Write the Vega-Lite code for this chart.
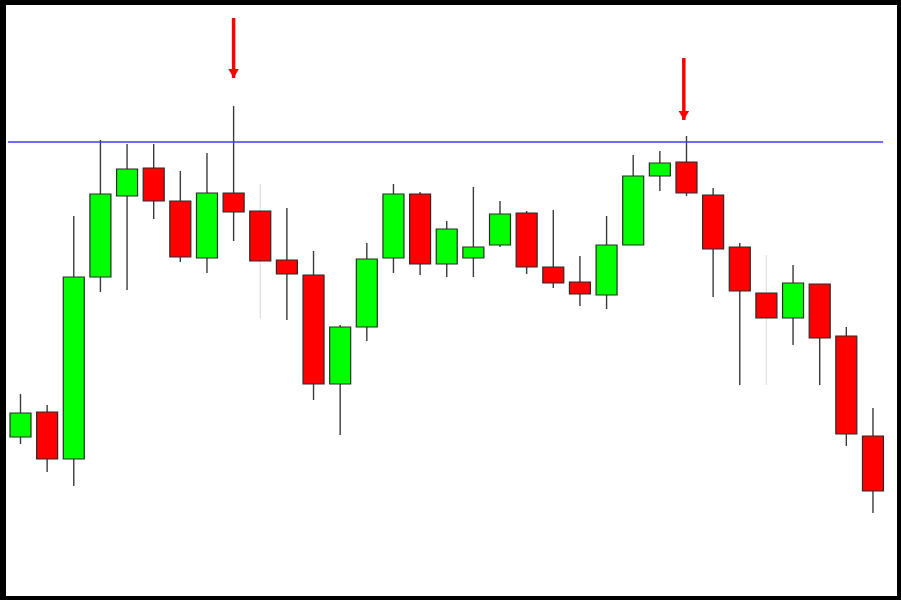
{
  "$schema": "https://vega.github.io/schema/vega-lite/v6.json",
  "width": 901,
  "height": 600,
  "autosize": {"type": "fit", "contains": "padding"},
  "padding": {"left": 6, "top": 5, "right": 4, "bottom": 4},
  "background": "black",
  "view": {"fill": "white", "stroke": null},
  "datasets": {
    "candles": [
      {"i": 1, "open": 116.3, "close": 118.7, "high": 120.6, "low": 115.6},
      {"i": 2, "open": 118.8, "close": 114.1, "high": 119.5, "low": 112.8},
      {"i": 3, "open": 114.1, "close": 132.3, "high": 138.4, "low": 111.4},
      {"i": 4, "open": 132.3, "close": 140.6, "high": 146.0, "low": 130.8},
      {"i": 5, "open": 140.4, "close": 143.1, "high": 145.6, "low": 131.0},
      {"i": 6, "open": 143.2, "close": 139.9, "high": 145.6, "low": 138.1},
      {"i": 7, "open": 139.9, "close": 134.3, "high": 142.9, "low": 133.8},
      {"i": 8, "open": 134.2, "close": 140.7, "high": 144.7, "low": 132.7},
      {"i": 9, "open": 140.7, "close": 138.8, "high": 149.4, "low": 135.9},
      {"i": 10, "open": 138.9, "close": 133.9, "high": 141.6, "low": 128.2},
      {"i": 11, "open": 134.0, "close": 132.6, "high": 139.2, "low": 128.0},
      {"i": 12, "open": 132.5, "close": 121.6, "high": 134.9, "low": 120.0},
      {"i": 13, "open": 121.6, "close": 127.3, "high": 127.5, "low": 116.5},
      {"i": 14, "open": 127.3, "close": 134.1, "high": 135.7, "low": 125.9},
      {"i": 15, "open": 134.2, "close": 140.6, "high": 141.6, "low": 132.7},
      {"i": 16, "open": 140.6, "close": 133.6, "high": 140.8, "low": 132.5},
      {"i": 17, "open": 133.6, "close": 137.1, "high": 137.9, "low": 132.3},
      {"i": 18, "open": 134.2, "close": 135.3, "high": 141.3, "low": 132.3},
      {"i": 19, "open": 135.5, "close": 138.6, "high": 139.9, "low": 135.3},
      {"i": 20, "open": 138.7, "close": 133.3, "high": 138.9, "low": 132.6},
      {"i": 21, "open": 133.3, "close": 131.7, "high": 139.0, "low": 131.2},
      {"i": 22, "open": 131.8, "close": 130.6, "high": 134.4, "low": 129.4},
      {"i": 23, "open": 130.5, "close": 135.5, "high": 138.4, "low": 129.1},
      {"i": 24, "open": 135.5, "close": 142.4, "high": 144.5, "low": 135.5},
      {"i": 25, "open": 142.4, "close": 143.7, "high": 144.9, "low": 140.9},
      {"i": 26, "open": 143.8, "close": 140.7, "high": 146.4, "low": 140.4},
      {"i": 27, "open": 140.5, "close": 135.1, "high": 141.2, "low": 130.3},
      {"i": 28, "open": 135.3, "close": 130.9, "high": 135.7, "low": 121.5},
      {"i": 29, "open": 130.7, "close": 128.2, "high": 134.5, "low": 121.5},
      {"i": 30, "open": 128.2, "close": 131.7, "high": 133.5, "low": 125.5},
      {"i": 31, "open": 131.6, "close": 126.2, "high": 131.6, "low": 121.5},
      {"i": 32, "open": 126.4, "close": 116.6, "high": 127.3, "low": 115.4},
      {"i": 33, "open": 116.4, "close": 110.9, "high": 119.2, "low": 108.7}
    ],
    "level": [{"start": 0.53, "end": 33.38, "price": 145.8}],
    "arrows": [
      {"i": 9, "top": 158.2, "tip": 152.2},
      {"i": 25.9, "top": 154.2, "tip": 148.0}
    ]
  },
  "layer": [
    {
      "data": {"name": "candles"},
      "mark": {"type": "rule", "strokeWidth": 1.4},
      "encoding": {
        "x": {"field": "i", "type": "quantitative", "scale": {"domain": [0.456, 33.902], "nice": false, "zero": false, "padding": 0}, "axis": null},
        "y": {"field": "low", "type": "quantitative", "scale": {"domain": [100.4, 159.5], "nice": false, "zero": false, "padding": 0}, "axis": null},
        "y2": {"field": "high"},
        "color": {"condition": {"test": "datum.i == 10 || datum.i == 29", "value": "#e2e2e2"}, "value": "#3a3a3a"}
      }
    },
    {
      "data": {"name": "candles"},
      "mark": {"type": "bar", "width": 21, "stroke": "#2a2a2a", "strokeWidth": 1.2},
      "encoding": {
        "x": {"field": "i", "type": "quantitative", "scale": {"domain": [0.456, 33.902], "nice": false, "zero": false, "padding": 0}, "axis": null},
        "y": {"field": "open", "type": "quantitative", "scale": {"domain": [100.4, 159.5], "nice": false, "zero": false, "padding": 0}, "axis": null},
        "y2": {"field": "close"},
        "color": {"condition": {"test": "datum.close >= datum.open", "value": "#00ff00"}, "value": "#ff0000"}
      }
    },
    {
      "data": {"name": "level"},
      "mark": {"type": "rule", "color": "#3c3cff", "strokeWidth": 1.5},
      "encoding": {
        "x": {"field": "start", "type": "quantitative", "scale": {"domain": [0.456, 33.902], "nice": false, "zero": false, "padding": 0}, "axis": null},
        "x2": {"field": "end"},
        "y": {"field": "price", "type": "quantitative", "scale": {"domain": [100.4, 159.5], "nice": false, "zero": false, "padding": 0}, "axis": null}
      }
    },
    {
      "data": {"name": "arrows"},
      "mark": {"type": "rule", "color": "#ff0000", "strokeWidth": 3.5},
      "encoding": {
        "x": {"field": "i", "type": "quantitative", "scale": {"domain": [0.456, 33.902], "nice": false, "zero": false, "padding": 0}, "axis": null},
        "y": {"field": "top", "type": "quantitative", "scale": {"domain": [100.4, 159.5], "nice": false, "zero": false, "padding": 0}, "axis": null},
        "y2": {"field": "tip"}
      }
    },
    {
      "data": {"name": "arrows"},
      "mark": {"type": "point", "shape": "triangle-down", "filled": true, "color": "#ff0000", "opacity": 1, "size": 110, "yOffset": -4.5},
      "encoding": {
        "x": {"field": "i", "type": "quantitative", "scale": {"domain": [0.456, 33.902], "nice": false, "zero": false, "padding": 0}, "axis": null},
        "y": {"field": "tip", "type": "quantitative", "scale": {"domain": [100.4, 159.5], "nice": false, "zero": false, "padding": 0}, "axis": null}
      }
    }
  ]
}
